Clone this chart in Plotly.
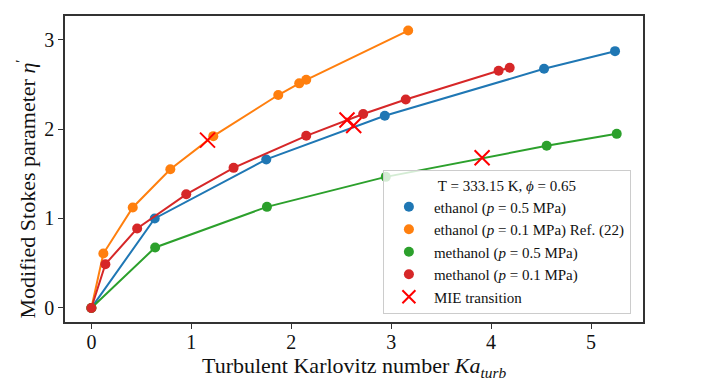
import plotly.graph_objects as go

# Data
eth05_x = [0.0, 0.634, 1.75, 2.936, 4.53, 5.24]
eth05_y = [0.0, 1.0, 1.66, 2.148, 2.673, 2.87]

eth01_x = [0.0, 0.12, 0.414, 0.79, 1.22, 1.87, 2.08, 2.15, 3.17]
eth01_y = [0.0, 0.608, 1.123, 1.55, 1.92, 2.38, 2.51, 2.55, 3.10]

meth05_x = [0.0, 0.638, 1.757, 2.946, 4.556, 5.257]
meth05_y = [0.0, 0.676, 1.13, 1.465, 1.812, 1.946]

meth01_x = [0.0, 0.14, 0.458, 0.949, 1.423, 2.15, 2.72, 3.146, 4.075, 4.186]
meth01_y = [0.0, 0.489, 0.888, 1.27, 1.566, 1.924, 2.167, 2.33, 2.651, 2.685]

mie_x = [1.162, 2.558, 2.625, 3.91]
mie_y = [1.876, 2.10, 2.04, 1.678]

series_names = [
    "ethanol (<i>p</i> = 0.5 MPa)",
    "ethanol (<i>p</i> = 0.1 MPa) Ref. (22)",
    "methanol (<i>p</i> = 0.5 MPa)",
    "methanol (<i>p</i> = 0.1 MPa)",
]
colors = ["#1f77b4", "#ff7f0e", "#2ca02c", "#d62728"]
series = [(eth05_x, eth05_y), (eth01_x, eth01_y), (meth05_x, meth05_y), (meth01_x, meth01_y)]

FONT = "Liberation Serif, Times New Roman, serif"

fig = go.Figure()
for (xs, ys), c in zip(series, colors):
    fig.add_trace(go.Scatter(x=xs, y=ys, mode="lines+markers",
                             line=dict(color=c, width=2),
                             marker=dict(color=c, size=10),
                             showlegend=False, hoverinfo="skip"))

fig.add_trace(go.Scatter(x=mie_x, y=mie_y, mode="markers",
                         marker=dict(symbol="x-thin-open", size=15, color="#ff0000",
                                     line=dict(color="#ff0000", width=2)),
                         showlegend=False))

# legend proxies
for name, c in zip(series_names, colors):
    fig.add_trace(go.Scatter(x=[None], y=[None], mode="markers", name=name,
                             marker=dict(color=c, size=10)))
fig.add_trace(go.Scatter(x=[None], y=[None], mode="markers", name="MIE transition",
                         marker=dict(symbol="x-thin-open", size=13, color="#ff0000",
                                     line=dict(color="#ff0000", width=2))))

axis_common = dict(showgrid=False, zeroline=False, showline=True, linecolor="#333333",
                   linewidth=1.5, mirror=True, ticks="outside", ticklen=5,
                   tickcolor="#333333", automargin=False,
                   tickfont=dict(family=FONT, size=20, color="#111"))

fig.update_layout(
    width=717, height=385,
    margin=dict(l=57, r=82, t=8, b=71),
    plot_bgcolor="white", paper_bgcolor="white",
    font=dict(family=FONT, color="#111"),
    xaxis=dict(range=[-0.264, 5.52], tickvals=[0, 1, 2, 3, 4, 5],
               ticklabelstandoff=-4, **axis_common),
    yaxis=dict(range=[-0.157, 3.263], tickvals=[0, 1, 2, 3], **axis_common),
    legend=dict(x=0.55, y=0.026, xanchor="left", yanchor="bottom",
                bgcolor="rgba(255,255,255,0.8)", bordercolor="#cccccc", borderwidth=1,
                font=dict(family=FONT, size=15, color="#111"),
                title=dict(text="T = 333.15 K, <i>ϕ</i> = 0.65", side="top center",
                           font=dict(family=FONT, size=15, color="#111")),
                tracegroupgap=0, itemwidth=40),
    annotations=[
        dict(text="Turbulent Karlovitz number <i>Ka</i><sub><i>turb</i></sub>",
             xref="paper", yref="paper", x=0.5, y=-0.147, xanchor="center", yanchor="middle",
             showarrow=False, font=dict(family=FONT, size=22, color="#111")),
        dict(text="Modified Stokes parameter <i>η</i><sup>′</sup>",
             xref="paper", yref="paper", x=-0.068, y=0.435, xanchor="center", yanchor="middle",
             textangle=-90, showarrow=False, font=dict(family=FONT, size=22, color="#111")),
    ],
)

fig.write_html("out.html")
